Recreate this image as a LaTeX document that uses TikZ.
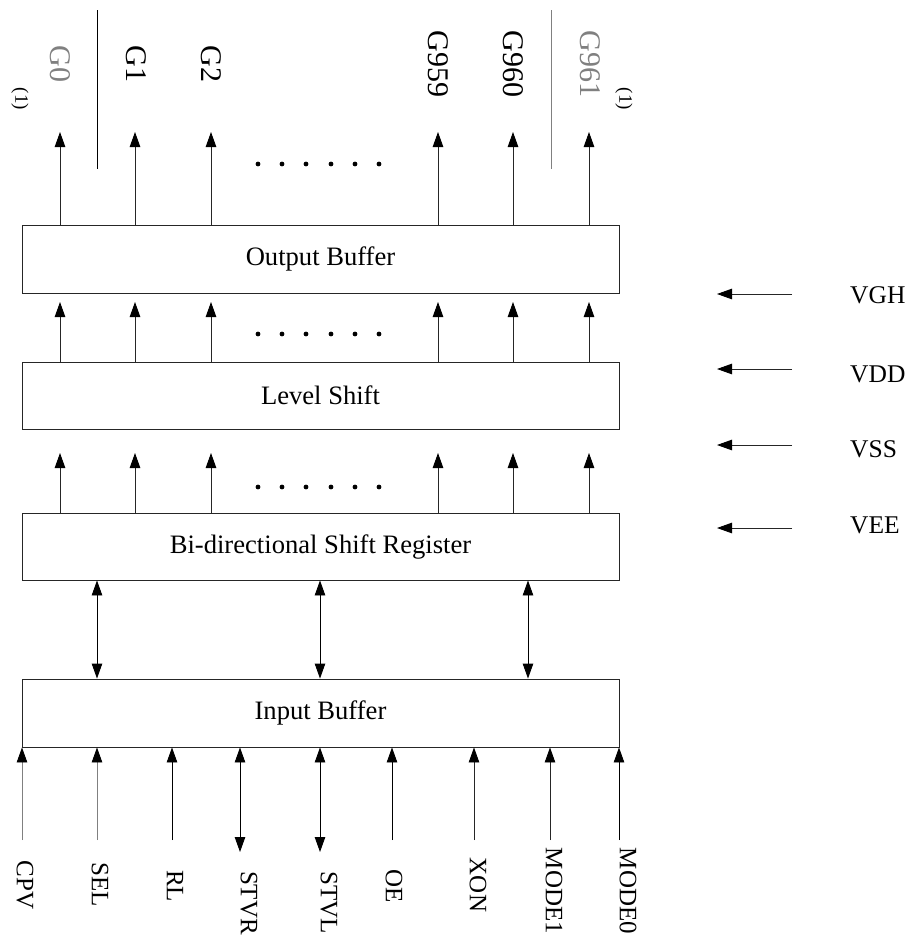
\documentclass[tikz,border=0pt]{standalone}
\usepackage{fontspec}
\setmainfont{Liberation Serif}
\usetikzlibrary{arrows.meta}
\begin{document}
\begin{tikzpicture}[x=1pt,y=-1pt,
  blk/.style={draw=black!85, line width=0.9pt, minimum width=597pt, minimum height=68pt, inner sep=0pt, font=\fontsize{26.6}{30}\selectfont},
  arr/.style={-{Triangle[length=15pt,width=10.5pt,color=black]}, line width=0.9pt, draw=black!85},
  darr/.style={{Triangle[length=15pt,width=10.5pt,color=black]}-{Triangle[length=15pt,width=10.5pt,color=black]}, line width=0.9pt},
  toplbl/.style={rotate=-90, font=\fontsize{30}{34}\selectfont, inner sep=0pt},
  notelbl/.style={rotate=-90, font=\fontsize{19}{22}\selectfont, inner sep=0pt},
  botlbl/.style={rotate=-90, font=\fontsize{25}{30}\selectfont, inner sep=0pt},
  pwrlbl/.style={anchor=base west, font=\fontsize{25.5}{30}\selectfont, inner sep=0pt},
  dotmark/.style={circle, fill=black, inner sep=0pt, minimum size=4.8pt}]
\useasboundingbox (0,0) rectangle (908,943);
\fill[white] (0,0) rectangle (908,943);

% boxes
\node[blk] (ob) at (320.5,259) {Output Buffer};
\node[blk, minimum height=67pt] (ls) at (320.5,395.5) {Level Shift};
\node[blk, minimum height=67pt] (bd) at (320.5,546.5) {Bi-directional Shift Register};
\node[blk] (ib) at (320.5,713) {Input Buffer};

% output arrows and inter-stage arrows
\foreach \x [count=\i] in {60,135,211,438,513,589} {
  \coordinate (t\i) at (\x,132);
  \coordinate (m\i) at (\x,302);
  \coordinate (n\i) at (\x,453);
  \draw[arr] (ob.north -| t\i) -- (t\i);
  \draw[arr] (ls.north -| m\i) -- (m\i);
  \draw[arr] (bd.north -| n\i) -- (n\i);
}

% dots
\foreach \y in {164,334,487} {
  \foreach \x [count=\j] in {258,282,306,331,355,379} {
    \node[dotmark] (d\y-\j) at (\x,\y) {};
  }
}

% separators
\coordinate (sa1) at (97,10); \coordinate (sa2) at (97,169);
\coordinate (sb1) at (551,10); \coordinate (sb2) at (551,169);
\draw[line width=0.9pt] (sa1) -- (sa2);
\draw[line width=0.9pt, gray] (sb1) -- (sb2);

% top labels
\node[toplbl, text=gray] (g0) at (60,64) {G0};
\node[toplbl] (g1) at (136,64) {G1};
\node[toplbl] (g2) at (211,64) {G2};
\node[toplbl] (g959) at (438,64) {G959};
\node[toplbl] (g960) at (513,64) {G960};
\node[toplbl, text=gray] (g961) at (590,64) {G961};
\node[notelbl] (n1) at (20,99) {(1)};
\node[notelbl] (n2) at (624,99) {(1)};

% bidirectional arrows between shift register and input buffer
\foreach \x [count=\i] in {97,320,528} {
  \coordinate (b\i) at (\x,0);
  \draw[darr] (bd.south -| b\i) -- (ib.north -| b\i);
}

% bottom inputs
\foreach \x/\nm/\c in {22/cpv/gray, 97/sel/gray, 172/rl/black, 392/oe/black, 474/xon/black!85, 550/mode1/black!85, 619/mode0/black} {
  \coordinate (s\nm) at (\x,840);
  \draw[arr, draw=\c] (s\nm) -- (ib.south -| s\nm);
}
\foreach \x/\nm in {240/stvr, 320/stvl} {
  \coordinate (s\nm) at (\x,852);
  \draw[darr] (s\nm) -- (ib.south -| s\nm);
}

\node[botlbl] (lcpv) at (25,885) {CPV};
\node[botlbl] (lsel) at (100,885) {SEL};
\node[botlbl] (lrl) at (175,886) {RL};
\node[botlbl] (lstvr) at (249,903) {STVR};
\node[botlbl] (lstvl) at (329,903) {STVL};
\node[botlbl] (loe) at (394,886) {OE};
\node[botlbl] (lxon) at (478,885) {XON};
\node[botlbl] (lmode1) at (554,891) {MODE1};
\node[botlbl] (lmode0) at (628,891) {MODE0};

% power arrows
\foreach \y/\nm/\ty in {294/VGH/303, 369/VDD/382, 445/VSS/457, 528/VEE/533} {
  \coordinate (p\nm) at (792,\y);
  \coordinate (q\nm) at (717,\y);
  \draw[arr] (p\nm) -- (q\nm);
  \node[pwrlbl] (l\nm) at (850,\ty) {\nm};
}
\end{tikzpicture}
\end{document}
